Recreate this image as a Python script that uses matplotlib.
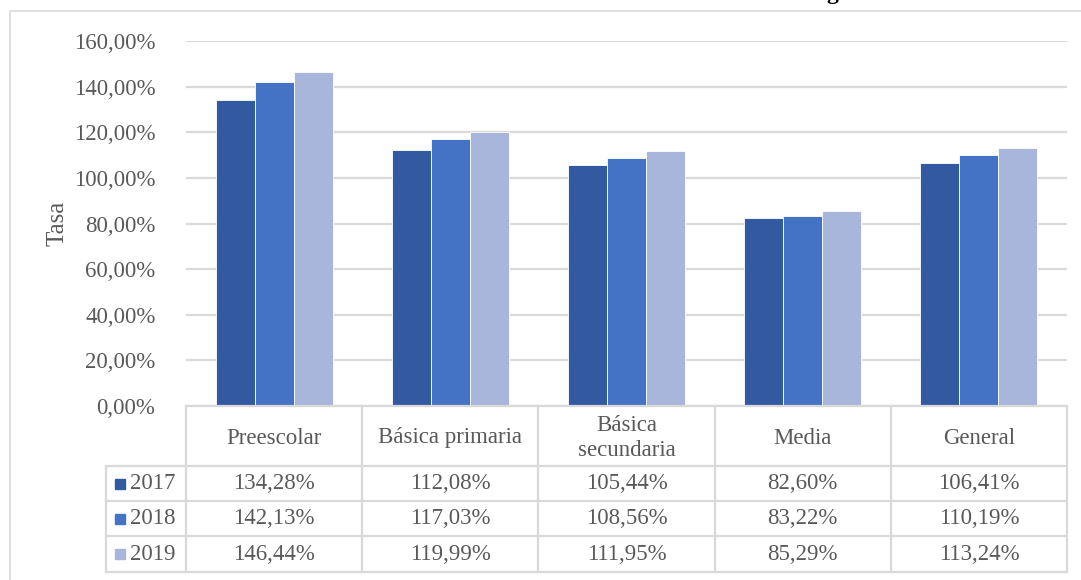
import matplotlib
matplotlib.use("Agg")
import matplotlib.pyplot as plt
from matplotlib.patches import Rectangle
from matplotlib.lines import Line2D
import numpy as np

categories = ["Preescolar", "Básica primaria", "Básica\nsecundaria", "Media", "General"]
years = ["2017", "2018", "2019"]
v2017 = [134.28, 112.08, 105.44, 82.60, 106.41]
v2018 = [142.13, 117.03, 108.56, 83.22, 110.19]
v2019 = [146.44, 119.99, 111.95, 85.29, 113.24]
yticks = [0, 20, 40, 60, 80, 100, 120, 140, 160]
ylabel = "Tasa"

colors = ["#335AA1", "#4472C4", "#A9B6DB"]
series = [v2017, v2018, v2019]
TXT = "#595959"
GRID = "#D9D9D9"
FONT = "Liberation Serif"
FS = 16.5

W, H = 1081, 580
fig = plt.figure(figsize=(W / 100, H / 100), dpi=100)

def fx(x):
    return x / W

def fy(y):
    return 1 - y / H

# outer border
fig.patches.append(Rectangle((fx(10), fy(592)), fx(1090) - fx(10), fy(11) - fy(592),
                             transform=fig.transFigure, fill=False, edgecolor=GRID, lw=1.2))

# cut-off title fragment (reference shows only its descender)
fig.text(fx(838), fy(-1), "g", ha="right", va="baseline", fontsize=17,
         fontweight="bold", family=FONT, color="black")

L, R, T, B = 186, 1067, 41, 406
ax = fig.add_axes([fx(L), fy(B), fx(R) - fx(L), fy(T) - fy(B)])
n = len(categories)
x = np.arange(n)
bw = 0.221
for i, (vals, c) in enumerate(zip(series, colors)):
    ax.bar(x + (i - 1) * bw, vals, width=bw, color=c, edgecolor="white", lw=0.6, zorder=3)
ax.set_xlim(-0.5, n - 0.5)
ax.set_ylim(0, 160)
ax.set_yticks(yticks)
ax.set_yticklabels([f"{t:.2f}".replace(".", ",") + "%" for t in yticks],
                   family=FONT, fontsize=FS, color=TXT)
ax.tick_params(axis="y", length=0, pad=22)
ax.set_xticks([])
ax.grid(axis="y", color=GRID, lw=1.6, zorder=0)
for s in ax.spines.values():
    s.set_visible(False)
ax.set_ylabel(ylabel, family=FONT, fontsize=18, color=TXT, labelpad=4)

# table
col_edges = [L + (R - L) * k / n for k in range(n + 1)]
row_y = [406, 466, 501, 536, 572]
leg_left = 106

def hline(x0, x1, y):
    fig.add_artist(Line2D([fx(x0), fx(x1)], [fy(y), fy(y)], transform=fig.transFigure,
                          color=GRID, lw=1.6))

def vline(x, y0, y1):
    fig.add_artist(Line2D([fx(x), fx(x)], [fy(y0), fy(y1)], transform=fig.transFigure,
                          color=GRID, lw=1.6))

hline(L, R, row_y[0])
for yy in row_y[1:]:
    hline(leg_left, R, yy)
for xx in col_edges:
    vline(xx, row_y[0], row_y[-1])
vline(leg_left, row_y[1], row_y[-1])

for j, cat in enumerate(categories):
    cx = (col_edges[j] + col_edges[j + 1]) / 2
    cy = (row_y[0] + row_y[1]) / 2 + 2
    fig.text(fx(cx), fy(cy), cat, ha="center", va="center", fontsize=FS, family=FONT,
             color=TXT, linespacing=1.3)

for i, (yr, vals, c) in enumerate(zip(years, series, colors)):
    cy = (row_y[i + 1] + row_y[i + 2]) / 2
    fig.patches.append(Rectangle((fx(115), fy(cy + 5)), fx(125) - fx(115), fy(cy - 5) - fy(cy + 5),
                                 transform=fig.transFigure, color=c))
    fig.text(fx(130), fy(cy), yr, ha="left", va="center", fontsize=FS, family=FONT, color=TXT)
    for j, v in enumerate(vals):
        cx = (col_edges[j] + col_edges[j + 1]) / 2
        fig.text(fx(cx), fy(cy), f"{v:.2f}".replace(".", ",") + "%", ha="center", va="center",
                 fontsize=FS, family=FONT, color=TXT)

fig.savefig("out.png", dpi=100)
